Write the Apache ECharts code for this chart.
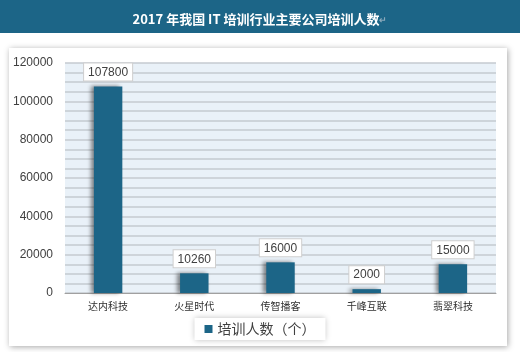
<!DOCTYPE html>
<html>
<head>
<meta charset="utf-8">
<script src="https://cdn.jsdelivr.net/npm/echarts@6/dist/echarts.min.js"></script>
<style>
  html, body { margin: 0; padding: 0; background: #fff; }
  #chart { width: 520px; height: 352px; }
</style>
</head>
<body>
<div id="chart"></div>
<script>
const companies = ['达内科技', '火星时代', '传智播客', '千峰互联', '翡翠科技']
const trainees = [107800, 10260, 16000, 2000, 15000]
const seriesName = '培训人数（个）'
const titleText = '2017 年我国 IT 培训行业主要公司培训人数'

const chart = echarts.init(document.getElementById('chart'), null, { renderer: 'canvas' })

const option = {
  backgroundColor: '#ffffff',
  animation: false,
  graphic: [
    {
      type: 'rect',
      z: -10,
      shape: { x: 0, y: 0, width: 520, height: 33 },
      style: { fill: '#1c6587' }
    },
    {
      type: 'rect',
      z: -10,
      shape: { x: 9, y: 48, width: 498, height: 298 },
      style: {
        fill: '#ffffff',
        shadowBlur: 6,
        shadowColor: 'rgba(0,0,0,0.35)',
        shadowOffsetX: 1,
        shadowOffsetY: 1
      }
    }
  ],
  title: {
    text: titleText + '{ret|↵}',
    left: 'center',
    top: 8,
    textStyle: {
      color: '#ffffff',
      fontSize: 13,
      fontWeight: 'bold',
      fontFamily: 'Noto Sans CJK SC',
      rich: { ret: { color: '#8aa9bb', fontSize: 9 } }
    }
  },
  grid: {
    left: 65,
    right: 24,
    top: 63,
    bottom: 59,
    show: true,
    backgroundColor: '#e9f1f8',
    borderWidth: 0
  },
  legend: {
    data: [seriesName],
    bottom: 12,
    left: 'center',
    itemWidth: 8,
    itemHeight: 8,
    icon: 'rect',
    padding: [4, 10],
    backgroundColor: '#ffffff',
    shadowBlur: 6,
    shadowColor: 'rgba(0,0,0,0.25)',
    textStyle: { fontSize: 14, color: '#404040', fontFamily: 'Noto Sans CJK SC' }
  },
  xAxis: {
    type: 'category',
    data: companies,
    axisLine: { lineStyle: { color: '#a0a0a0' } },
    axisTick: { show: false },
    axisLabel: { fontSize: 10, color: '#303030', margin: 8, fontFamily: 'Noto Sans CJK SC' }
  },
  yAxis: {
    type: 'value',
    min: 0,
    max: 120000,
    interval: 20000,
    axisLine: { show: false },
    axisTick: { show: false },
    axisLabel: {
      fontSize: 12,
      color: '#404040',
      margin: 12,
      fontFamily: 'Liberation Sans',
      formatter: (v) => String(v)
    },
    splitLine: { lineStyle: { color: '#c4cad0', width: 1.5 } },
    minorTick: { show: false, splitNumber: 4 },
    minorSplitLine: { show: true, lineStyle: { color: '#c4cad0', width: 1.5 } }
  },
  series: [
    {
      name: seriesName,
      type: 'bar',
      data: trainees,
      barWidth: '33%',
      itemStyle: {
        color: '#1c6587',
        shadowColor: 'rgba(0,0,0,0.45)',
        shadowBlur: 4,
        shadowOffsetX: -3,
        shadowOffsetY: 0
      },
      label: {
        show: true,
        position: 'top',
        distance: 6,
        color: '#404040',
        fontSize: 12,
        fontFamily: 'Liberation Sans',
        backgroundColor: '#ffffff',
        borderColor: '#cfcfcf',
        borderWidth: 1,
        padding: [3, 4, 2, 4]
      }
    }
  ]
}

chart.setOption(option)
</script>
</body>
</html>
